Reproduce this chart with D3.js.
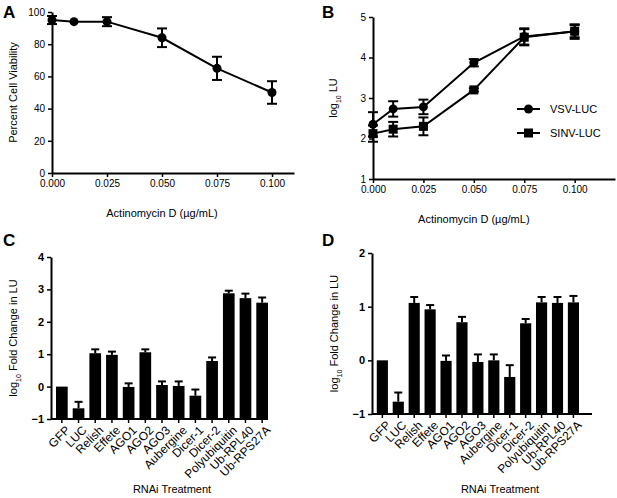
<!DOCTYPE html>
<html>
<head>
<meta charset="utf-8">
<script src="https://cdn.jsdelivr.net/npm/d3@7"></script>
<style>
  body { margin: 0; background: #fff; }
  svg { font-family: Arial, "Liberation Sans", sans-serif; }
  .tick text { font-size: 10px; fill: #000; }
  .axis .domain { stroke: #000; stroke-width: 2; }
  .axis .tick line { stroke: #000; stroke-width: 1.5; }
  .title { font-size: 11px; }
  .panel { font-size: 17px; font-weight: bold; }
</style>
</head>
<body>
<script>
// panel A: cell viability vs actinomycin D
var doseA = [0, 0.01, 0.025, 0.05, 0.075, 0.1];
var viability = [95, 94, 94, 84, 65, 50];
var viabilityErr = [2.5, 0, 2.8, 5.8, 7.2, 7];

// panel B: log10 LU for two viruses
var doseB = [0, 0.01, 0.025, 0.05, 0.075, 0.1];
var vsvLuc = [2.35, 2.73, 2.78, 3.87, 4.52, 4.64];
var vsvErr = [0.3, 0.19, 0.18, 0.09, 0.2, 0.18];
var sinvLuc = [2.12, 2.23, 2.3, 3.2, 4.5, 4.65];
var sinvErr = [0.2, 0.18, 0.22, 0.04, 0.2, 0.15];
var seriesNames = ["VSV-LUC", "SINV-LUC"];

var doseTicks = [0, 0.025, 0.05, 0.075, 0.1];

// panels C and D: RNAi treatments
var treatments = ["GFP", "LUC", "Relish", "Effete", "AGO1", "AGO2", "AGO3", "Aubergine",
  "Dicer-1", "Dicer-2", "Polyubiquitin", "Ub-RPL40", "Ub-RPS27A"];
var foldC = [0, -0.67, 1.03, 0.98, -0.01, 1.06, 0.05, 0.02, -0.28, 0.79, 2.88, 2.73, 2.59];
var foldCErr = [0, 0.2, 0.12, 0.1, 0.11, 0.09, 0.11, 0.14, 0.19, 0.11, 0.08, 0.14, 0.16];
var foldD = [0, -0.77, 1.07, 0.95, -0.01, 0.71, -0.03, 0.0, -0.31, 0.69, 1.08, 1.07, 1.08];
var foldDErr = [0, 0.17, 0.11, 0.08, 0.1, 0.1, 0.14, 0.11, 0.22, 0.08, 0.1, 0.11, 0.12];

var svg = d3.select("body").append("svg")
    .attr("width", 617)
    .attr("height", 498);

function errorBars(g, xs, ys, errs, x, y, capW, upOnly) {
  xs.forEach(function(xv, i) {
    if (!errs[i]) return;
    var lo = upOnly ? ys[i] : ys[i] - errs[i];
    var hi = ys[i] + errs[i];
    g.append("line")
        .attr("x1", x(xv)).attr("x2", x(xv))
        .attr("y1", y(lo)).attr("y2", y(hi))
        .attr("stroke", "#000").attr("stroke-width", 2);
    g.append("line")
        .attr("x1", x(xv) - capW / 2).attr("x2", x(xv) + capW / 2)
        .attr("y1", y(hi)).attr("y2", y(hi))
        .attr("stroke", "#000").attr("stroke-width", 2);
    if (!upOnly) {
      g.append("line")
          .attr("x1", x(xv) - capW / 2).attr("x2", x(xv) + capW / 2)
          .attr("y1", y(lo)).attr("y2", y(lo))
          .attr("stroke", "#000").attr("stroke-width", 2);
    }
  });
}

function doseAxes(x, y, yTicks, xTitle, yTitle, titleX) {
  svg.append("g")
      .attr("class", "axis")
      .attr("transform", "translate(0," + y.range()[0] + ")")
      .call(d3.axisBottom(x).tickValues(doseTicks).tickFormat(d3.format(".3f")).tickSize(4).tickSizeOuter(0));
  svg.append("g")
      .attr("class", "axis")
      .attr("transform", "translate(" + x.range()[0] + ",0)")
      .call(d3.axisLeft(y).tickValues(yTicks).tickFormat(d3.format("d")).tickSize(4).tickSizeOuter(0));
  svg.append("text")
      .attr("class", "title")
      .attr("x", (x(0) + x(0.1)) / 2)
      .attr("y", y.range()[0] + 44)
      .attr("text-anchor", "middle")
      .text(xTitle);
  return svg.append("text")
      .attr("class", "title")
      .attr("transform", "translate(" + titleX + "," + ((y.range()[0] + y.range()[1]) / 2) + ") rotate(-90)")
      .attr("text-anchor", "middle")
      .text(yTitle);
}

// ---- A
var xA = d3.scaleLinear().domain([0, 0.11]).range([52, 294]);
var yA = d3.scaleLinear().domain([0, 100]).range([173, 12]);
doseAxes(xA, yA, [0, 20, 40, 60, 80, 100], "Actinomycin D (\u00b5g/mL)", "Percent Cell Viability", 17);

var gA = svg.append("g");
gA.append("path")
    .datum(doseA)
    .attr("fill", "none").attr("stroke", "#000").attr("stroke-width", 2)
    .attr("d", d3.line().x(function(d) { return xA(d); }).y(function(d, i) { return yA(viability[i]); }));
errorBars(gA, doseA, viability, viabilityErr, xA, yA, 10, false);
gA.selectAll("circle")
    .data(doseA)
  .enter().append("circle")
    .attr("cx", function(d) { return xA(d); })
    .attr("cy", function(d, i) { return yA(viability[i]); })
    .attr("r", 4.5);

// ---- B
var xB = d3.scaleLinear().domain([0, 0.12]).range([373, 615]);
var yB = d3.scaleLinear().domain([1, 5]).range([179, 17]);
var yTitleB = doseAxes(xB, yB, [1, 2, 3, 4, 5], "Actinomycin D (\u00b5g/mL)", "", 337);
yTitleB.text("log").append("tspan").attr("baseline-shift", "sub").attr("font-size", "7px").text("10");
yTitleB.append("tspan").text(" LU");

var gB = svg.append("g");
[vsvLuc, sinvLuc].forEach(function(vals, s) {
  gB.append("path")
      .datum(doseB)
      .attr("fill", "none").attr("stroke", "#000").attr("stroke-width", 2)
      .attr("d", d3.line().x(function(d) { return xB(d); }).y(function(d, i) { return yB(vals[i]); }));
  errorBars(gB, doseB, vals, s == 0 ? vsvErr : sinvErr, xB, yB, 10, false);
});
gB.selectAll(".dotB")
    .data(doseB)
  .enter().append("circle")
    .attr("cx", function(d) { return xB(d); })
    .attr("cy", function(d, i) { return yB(vsvLuc[i]); })
    .attr("r", 4.5);
gB.selectAll(".sqB")
    .data(doseB)
  .enter().append("rect")
    .attr("x", function(d) { return xB(d) - 4.5; })
    .attr("y", function(d, i) { return yB(sinvLuc[i]) - 4.5; })
    .attr("width", 9).attr("height", 9);

// legend
var legend = svg.selectAll(".legend")
    .data(seriesNames)
  .enter().append("g")
    .attr("class", "legend")
    .attr("transform", function(d, i) { return "translate(517," + (109 + i * 24) + ")"; });
legend.append("line")
    .attr("x1", 0).attr("x2", 23)
    .attr("stroke", "#000").attr("stroke-width", 2);
legend.filter(function(d, i) { return i == 0; }).append("circle")
    .attr("cx", 11.5).attr("r", 4.5);
legend.filter(function(d, i) { return i == 1; }).append("rect")
    .attr("x", 7).attr("y", -4.5).attr("width", 9).attr("height", 9);
legend.append("text")
    .attr("x", 33)
    .attr("dy", "0.35em")
    .style("font-size", "11px")
    .text(function(d) { return d; });

// ---- C and D bar charts
function barPanel(vals, errs, xRange, axisEnd, y, yTicks, titleX, titleXc) {
  var x = d3.scaleBand().domain(treatments).range(xRange)
      .paddingInner(0.3).paddingOuter(0.15).align(1);
  var base = y.range()[0];
  var g = svg.append("g");
  g.selectAll("rect")
      .data(treatments)
    .enter().append("rect")
      .attr("x", function(d) { return x(d); })
      .attr("y", function(d, i) { return y(vals[i]); })
      .attr("width", x.bandwidth())
      .attr("height", function(d, i) { return base - y(vals[i]); });
  var xc = function(d) { return x(d) + x.bandwidth() / 2; };
  errorBars(g, treatments, vals, errs, xc, y, 8, true);

  var xa = svg.append("g")
      .attr("class", "axis")
      .attr("transform", "translate(0," + base + ")")
      .call(d3.axisBottom(x).tickSize(4).tickSizeOuter(0));
  xa.select(".domain").attr("d", "M" + xRange[0] + ",0H" + axisEnd);
  xa.selectAll(".tick text")
      .style("font-size", "12px")
      .attr("text-anchor", "end")
      .attr("x", 0)
      .attr("y", 0)
      .attr("dy", "0.7em")
      .attr("transform", "translate(3,6) rotate(-45)");
  var ya = svg.append("g")
      .attr("class", "axis")
      .attr("transform", "translate(" + xRange[0] + ",0)")
      .call(d3.axisLeft(y).tickValues(yTicks).tickFormat(d3.format("d")).tickSize(4).tickSizeOuter(0));
  ya.selectAll(".tick text").style("font-weight", "bold").style("font-size", "11px");

  svg.append("text")
      .attr("class", "title")
      .attr("x", titleXc)
      .attr("y", 493)
      .attr("text-anchor", "middle")
      .text("RNAi Treatment");
  var t = svg.append("text")
      .attr("class", "title")
      .attr("transform", "translate(" + titleX + "," + ((y.range()[0] + y.range()[1]) / 2) + ") rotate(-90)")
      .attr("text-anchor", "middle")
      .text("log");
  t.append("tspan").attr("baseline-shift", "sub").attr("font-size", "7px").text("10");
  t.append("tspan").text(" Fold Change in LU");
}

var yC = d3.scaleLinear().domain([-1, 4]).range([419, 257]);
barPanel(foldC, foldCErr, [51, 268], 268, yC, [-1, 0, 1, 2, 3, 4], 17, 172);

var yD = d3.scaleLinear().domain([-1, 2]).range([414, 253]);
barPanel(foldD, foldDErr, [372, 579], 592, yD, [-1, 0, 1, 2], 338, 500);

// panel letters
var letters = [["A", 3, 18], ["B", 322, 18], ["C", 3, 246], ["D", 322, 246]];
svg.selectAll(".panel")
    .data(letters)
  .enter().append("text")
    .attr("class", "panel")
    .attr("x", function(d) { return d[1]; })
    .attr("y", function(d) { return d[2]; })
    .text(function(d) { return d[0]; });
</script>
</body>
</html>
